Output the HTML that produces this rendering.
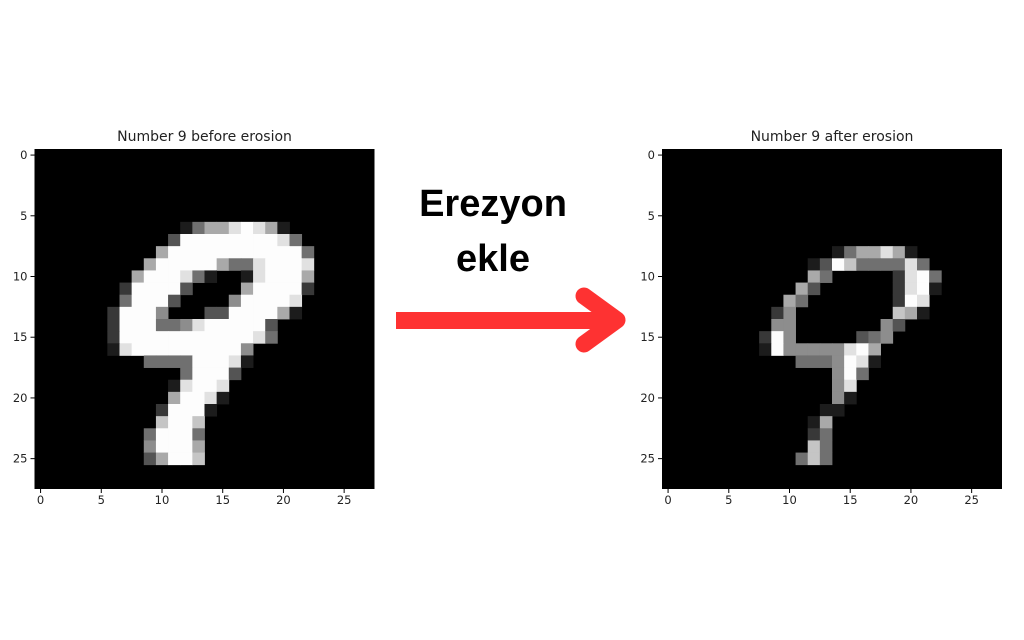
<!DOCTYPE html>
<html><head><meta charset="utf-8"><style>
html,body{margin:0;padding:0;background:#fff;width:1024px;height:640px;overflow:hidden}
svg{display:block}
</style></head><body>
<svg id="root" width="1024" height="640" xmlns="http://www.w3.org/2000/svg">
<rect width="1024" height="640" fill="#fff"/>
<g id="left"></g>
<g id="right"></g>
<text x="493" y="216" text-anchor="middle" font-family="Liberation Sans, sans-serif" font-weight="bold" font-size="38" fill="#000">Erezyon</text>
<text x="493" y="271" text-anchor="middle" font-family="Liberation Sans, sans-serif" font-weight="bold" font-size="38" fill="#000">ekle</text>
<g>
<rect x="396" y="312" width="216" height="17" fill="#fe3232"/>
<polyline points="584,296 617,320 584,344" fill="none" stroke="#fe3232" stroke-width="17" stroke-linecap="round" stroke-linejoin="round"/>
</g>
</svg>
<script>
const ticks = [0,5,10,15,20,25];
const leftTitle = "Number 9 before erosion";
const rightTitle = "Number 9 after erosion";
const leftRows = [
[6,12,"146689861"],[7,11,"39999999984"],[8,10,"6999999999994"],[9,9,"69999964489998"],
[10,8,"699984100189996"],[11,7,"2999930000699992"],[12,7,"499930000599998"],
[13,6,"2999500033999961"],[14,6,"29994458999993"],[15,6,"29999999999984"],
[16,6,"189999999995"],[17,9,"444499981"],[18,12,"49993"],[19,11,"18998"],
[20,11,"69981"],[21,10,"29991"],[22,10,"7997"],[23,9,"49994"],[24,9,"59996"],[25,9,"36997"]
];
const rightRows = [
[8,14,"1466861"],[9,12,"1397444484"],[10,12,"64000002894"],[11,11,"630000002891"],
[12,10,"640000000298"],[13,9,"2500000000761"],[14,9,"55000000053"],[15,8,"29500000345"],
[16,8,"1955555896"],[17,11,"4445981"],[18,14,"594"],[19,14,"58"],[20,14,"51"],
[21,13,"11"],[22,12,"16"],[23,12,"24"],[24,12,"74"],[25,11,"474"]
];
const NS="http://www.w3.org/2000/svg";
function mk(tag,attrs,parent){const e=document.createElementNS(NS,tag);for(const k in attrs)e.setAttribute(k,attrs[k]);parent.appendChild(e);return e;}
function panel(g,x0,y0,title,rows,prefix){
  const W=340,H=340,N=28,cw=W/N,ch=H/N;
  const sx=c=>x0+c*cw, sy=r=>y0+r*ch;
  const bg=mk('rect',{x:x0,y:y0,width:W,height:H,fill:'#000'},g);
  
  
  rows.forEach(([r,c0,s])=>{
    for(let i=0;i<s.length;i++){
      const d=+s[i]; if(!d) continue;
      const v=Math.round(d/9*253);
      const cell=mk('rect',{x:sx(c0+i),y:sy(r),width:cw+0.4,height:ch+0.4,fill:`rgb(${v},${v},${v})`},g);
      
      
    }
  });
  const t=mk('text',{x:x0+W/2,y:y0-8,'text-anchor':'middle','font-family':'DejaVu Sans, sans-serif','font-size':'14',fill:'#222'},g);
  t.textContent=title;
  
  
  ticks.forEach(v=>{
    const cx=sx(v+0.5), cy=sy(v+0.5);
    mk('line',{x1:cx,x2:cx,y1:y0+H,y2:y0+H+4,stroke:'#000','stroke-width':1},g);
    const xl=mk('text',{x:cx,y:y0+H+15,'text-anchor':'middle','font-family':'DejaVu Sans, sans-serif','font-size':'11.5',fill:'#222'},g);
    xl.textContent=v;
    
    
    mk('line',{x1:x0-4,x2:x0,y1:cy,y2:cy,stroke:'#000','stroke-width':1},g);
    const yl=mk('text',{x:x0-7,y:cy+4,'text-anchor':'end','font-family':'DejaVu Sans, sans-serif','font-size':'11.5',fill:'#222'},g);
    yl.textContent=v;
    
    
  });
}
panel(document.getElementById('left'),34.5,149,leftTitle,leftRows,'before');
panel(document.getElementById('right'),662,149,rightTitle,rightRows,'after');
</script>
</body></html>
